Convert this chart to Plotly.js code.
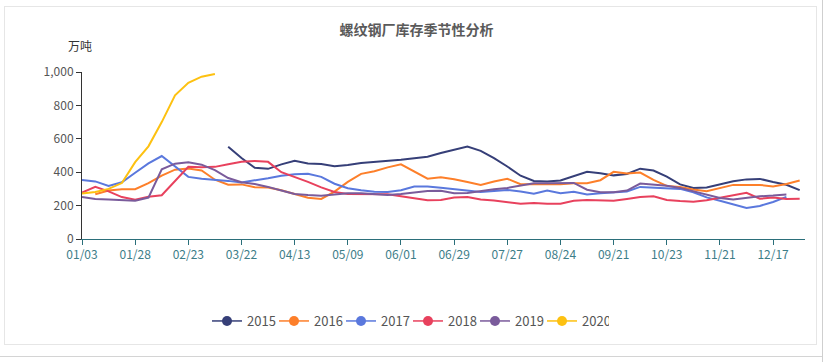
<!DOCTYPE html>
<html>
<head>
<meta charset="utf-8">
<script src="https://cdn.plot.ly/plotly-3.0.1.min.js"></script>
<style>
  html, body { margin: 0; padding: 0; background: #fff; width: 833px; height: 362px; overflow: hidden; }
  #frame { position: absolute; left: 4px; top: 6px; width: 811px; height: 337px; border: 1px solid #e6e6e6; }
  #vline { position: absolute; left: 822px; top: 0; width: 1px; height: 362px; background: #cfcfcf; }
  #hline { position: absolute; left: 0; top: 356px; width: 822px; height: 1px; background: #d4d4d4; }
  #chart { position: absolute; left: 0; top: 0; width: 833px; height: 362px; }
</style>
</head>
<body>
<div id="frame"></div>
<div id="vline"></div>
<div id="hline"></div>
<div id="chart"></div>
<script>
// ---- data ----
const tickLabels = ['01/03','01/28','02/23','03/22','04/13','05/09','06/01','06/29','07/27','08/24','09/21','10/23','11/21','12/17'];
const pointsPerLabel = 4;

const years = ['2015','2016','2017','2018','2019','2020'];
const colors = ['#363f78','#fd7f2a','#5a78dd','#e8415d','#7a5b9b','#fdc111'];

const s2015 = [null,null,null,null,null,null,null,null,null,null,null,
  552,485,426,420,447,469,452,449,436,443,455,461,467,474,484,493,515,533,553,528,484,434,379,347,344,350,378,403,394,381,389,421,410,374,327,306,308,328,346,357,360,341,325,293];
const s2016 = [null,268,290,298,298,334,380,415,422,410,355,325,327,310,308,292,268,247,240,284,342,390,406,429,447,404,361,370,358,341,323,344,361,328,328,328,328,334,334,352,402,392,398,354,318,312,296,286,304,324,324,324,315,329,350];
const s2017 = [354,345,318,340,397,453,497,433,372,361,356,348,339,350,364,379,388,390,372,331,304,292,283,281,292,314,314,307,298,290,282,288,294,284,271,290,274,283,266,274,278,285,312,309,305,300,280,249,229,207,186,198,222,252,null];
const s2018 = [278,312,285,251,235,253,262,348,432,429,432,447,462,467,462,400,372,342,309,282,269,269,269,268,256,245,232,233,248,251,237,231,220,211,216,211,211,229,234,230,229,240,252,256,234,227,223,232,246,262,277,241,248,240,241];
const s2019 = [251,240,237,235,229,248,417,451,460,445,413,365,340,329,312,290,269,263,259,267,274,274,268,264,270,279,288,289,274,275,288,298,306,318,334,334,334,336,295,280,280,290,332,324,319,306,286,264,246,237,246,256,260,266,null];
const s2020 = [272,282,300,335,460,555,700,860,935,972,988];

const series = [s2015, s2016, s2017, s2018, s2019, s2020];

// ---- traces ----
const traces = [];
series.forEach((vals, k) => {
  traces.push({
    type: 'scatter', mode: 'lines',
    x: vals.map((_, i) => i), y: vals,
    line: { color: colors[k], width: 2 },
    connectgaps: false, showlegend: false,
    name: years[k], hoverinfo: 'x+y+name'
  });
});
years.forEach((yr, k) => {
  traces.push({
    type: 'scatter', mode: 'lines+markers',
    x: [null], y: [null], name: yr,
    line: { color: colors[k], width: 1.5 },
    marker: { color: colors[k], size: 10, symbol: 'circle' },
    showlegend: true
  });
});

const tickvals = tickLabels.map((_, k) => k * pointsPerLabel);

const FONT = '"Noto Sans CJK SC", "Noto Sans", sans-serif';

const layout = {
  width: 833, height: 362,
  paper_bgcolor: 'rgba(0,0,0,0)', plot_bgcolor: 'rgba(0,0,0,0)',
  font: { family: FONT, size: 12, color: '#333' },
  margin: { l: 82.3, r: 28, t: 71.7, b: 122.7, pad: 0 },
  title: {
    text: '螺纹钢厂库存季节性分析',
    font: { family: FONT, size: 14, color: '#5a5a5a', weight: 'bold' },
    x: 0.5, xref: 'container', xanchor: 'center',
    y: 1 - 30 / 362, yref: 'container', yanchor: 'middle'
  },
  xaxis: {
    range: [0, 54.4],
    tickmode: 'array', tickvals: tickvals, ticktext: tickLabels,
    showgrid: false, zeroline: false,
    showline: true, linecolor: '#2b6f7a', linewidth: 1,
    ticks: 'outside', ticklen: 5, tickwidth: 1, tickcolor: '#2b6f7a',
    tickfont: { family: FONT, size: 12, color: '#3d7d88' },
    fixedrange: true
  },
  yaxis: {
    range: [0, 1000],
    tickvals: [0, 200, 400, 600, 800, 1000],
    tickformat: ',d',
    showgrid: false, zeroline: false,
    showline: true, linecolor: '#333', linewidth: 1,
    ticks: 'outside', ticklen: 5, tickwidth: 1, tickcolor: '#333',
    tickfont: { family: FONT, size: 12, color: '#555' },
    fixedrange: true
  },
  legend: {
    orientation: 'h',
    xref: 'container', yref: 'container',
    x: 207 / 833, xanchor: 'left',
    y: 1 - 321 / 362, yanchor: 'middle',
    entrywidth: 22, entrywidthmode: 'pixels',
    font: { family: FONT, size: 13, color: '#555' },
    bgcolor: 'rgba(0,0,0,0)'
  },
  annotations: [{
    text: '万吨', xref: 'paper', yref: 'paper',
    x: (80 - 82.3) / 722.7, y: 1 + (71.7 - 45) / 167.6,
    xanchor: 'center', yanchor: 'middle', showarrow: false,
    font: { family: FONT, size: 12, color: '#333' }
  }],
  showlegend: true
};

Plotly.newPlot('chart', traces, layout, { displayModeBar: false, staticPlot: true });
</script>
</body>
</html>
